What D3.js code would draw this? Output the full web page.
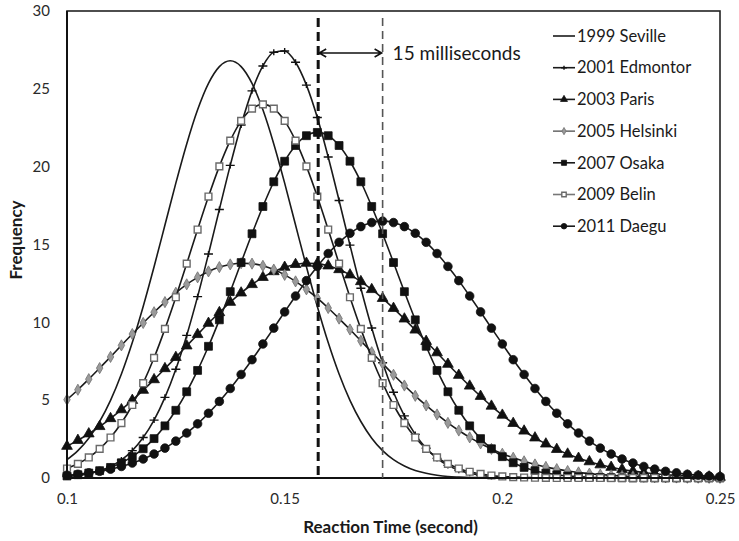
<!DOCTYPE html>
<html>
<head>
<meta charset="utf-8">
<title>Reaction time</title>
<script src="https://cdn.jsdelivr.net/npm/d3@7"></script>
<style>
	html, body { margin: 0; padding: 0; background: #fff; }
	#reaction-chart { display: block; }
	.axis text { font-family: Lato, 'Open Sans', sans-serif; font-size: 15px; fill: #2a2a2a; }
	.axis-title { font-family: Lato, 'Open Sans', sans-serif; font-size: 17px; font-weight: bold; fill: #1a1a1a; }
	.legend text { font-family: Lato, 'Open Sans', sans-serif; font-size: 16.5px; fill: #1a1a1a; }
	.note { font-family: Lato, 'Open Sans', sans-serif; font-size: 19px; fill: #1a1a1a; }
</style>
</head>
<body>
<svg id="reaction-chart" width="739" height="541"></svg>
<script>
// reaction time (s), one marker every 2.5 ms
var reactionTimes = [
	0.1, 0.1025, 0.105, 0.1075, 0.11, 0.1125, 0.115, 0.1175, 0.12, 0.1225,
	0.125, 0.1275, 0.13, 0.1325, 0.135, 0.1375, 0.14, 0.1425, 0.145, 0.1475,
	0.15, 0.1525, 0.155, 0.1575, 0.16, 0.1625, 0.165, 0.1675, 0.17, 0.1725,
	0.175, 0.1775, 0.18, 0.1825, 0.185, 0.1875, 0.19, 0.1925, 0.195, 0.1975,
	0.2, 0.2025, 0.205, 0.2075, 0.21, 0.2125, 0.215, 0.2175, 0.22, 0.2225,
	0.225, 0.2275, 0.23, 0.2325, 0.235, 0.2375, 0.24, 0.2425, 0.245, 0.2475,
	0.25
];

var seville = [
	1.18, 1.76, 2.56, 3.63, 4.99, 6.68, 8.70, 11.02, 13.57, 16.25,
	18.94, 21.46, 23.65, 25.35, 26.43, 26.80, 26.43, 25.35, 23.65, 21.46,
	18.94, 16.25, 13.57, 11.02, 8.70, 6.68, 4.99, 3.63, 2.56, 1.76,
	1.18, 0.77, 0.48, 0.30, 0.18, 0.10, 0.06, 0.03, 0.02, 0.01,
	0, 0, 0, 0, 0, 0, 0, 0, 0, 0,
	0, 0, 0, 0, 0, 0, 0, 0, 0, 0,
	0
];
var edmonton = [
	0.09, 0.16, 0.28, 0.46, 0.74, 1.16, 1.76, 2.60, 3.72, 5.18,
	6.99, 9.16, 11.65, 14.39, 17.25, 20.08, 22.68, 24.87, 26.47, 27.35,
	27.43, 26.71, 25.24, 23.16, 20.62, 17.83, 14.96, 12.19, 9.64, 7.40,
	5.51, 3.99, 2.80, 1.91, 1.26, 0.81, 0.50, 0.31, 0.18, 0.10,
	0.06, 0.03, 0.02, 0.01, 0, 0, 0, 0, 0, 0,
	0, 0, 0, 0, 0, 0, 0, 0, 0, 0,
	0
];
var paris = [
	2.04, 2.42, 2.84, 3.31, 3.82, 4.39, 4.99, 5.64, 6.32, 7.03,
	7.75, 8.49, 9.22, 9.94, 10.63, 11.29, 11.89, 12.43, 12.89, 13.26,
	13.54, 13.72, 13.80, 13.77, 13.63, 13.39, 13.05, 12.62, 12.11, 11.54,
	10.90, 10.22, 9.51, 8.78, 8.05, 7.31, 6.60, 5.91, 5.25, 4.62,
	4.04, 3.51, 3.02, 2.58, 2.19, 1.84, 1.54, 1.27, 1.05, 0.85,
	0.69, 0.55, 0.44, 0.35, 0.27, 0.21, 0.17, 0.13, 0.10, 0.07,
	0.05
];
var helsinki = [
	5.03, 5.67, 6.35, 7.06, 7.78, 8.52, 9.25, 9.96, 10.65, 11.30,
	11.90, 12.44, 12.89, 13.27, 13.55, 13.72, 13.80, 13.77, 13.63, 13.39,
	13.05, 12.63, 12.12, 11.55, 10.92, 10.24, 9.54, 8.81, 8.08, 7.35,
	6.63, 5.94, 5.28, 4.66, 4.08, 3.54, 3.05, 2.61, 2.22, 1.87,
	1.56, 1.30, 1.07, 0.87, 0.71, 0.57, 0.45, 0.36, 0.28, 0.22,
	0.17, 0.13, 0.10, 0.08, 0.06, 0.04, 0.03, 0.02, 0.02, 0.01,
	0.01
];
var osaka = [
	0.13, 0.21, 0.32, 0.47, 0.68, 0.98, 1.37, 1.88, 2.53, 3.35,
	4.35, 5.54, 6.91, 8.46, 10.16, 11.97, 13.84, 15.69, 17.44, 19.03,
	20.35, 21.36, 21.99, 22.20, 21.99, 21.36, 20.35, 19.03, 17.44, 15.69,
	13.84, 11.97, 10.16, 8.46, 6.91, 5.54, 4.35, 3.35, 2.53, 1.88,
	1.37, 0.98, 0.68, 0.47, 0.32, 0.21, 0.13, 0.09, 0.05, 0.03,
	0.02, 0.01, 0, 0, 0, 0, 0, 0, 0, 0,
	0
];
var belin = [
	0.61, 0.91, 1.32, 1.87, 2.60, 3.53, 4.69, 6.09, 7.72, 9.58,
	11.61, 13.77, 15.96, 18.08, 20.02, 21.67, 22.94, 23.73, 24.00, 23.73,
	22.94, 21.67, 20.02, 18.08, 15.96, 13.77, 11.61, 9.58, 7.72, 6.09,
	4.69, 3.53, 2.60, 1.87, 1.32, 0.91, 0.61, 0.40, 0.26, 0.16,
	0.10, 0.06, 0.03, 0.02, 0.01, 0, 0, 0, 0, 0,
	0, 0, 0, 0, 0, 0, 0, 0, 0, 0,
	0
];
var daegu = [
	0.18, 0.24, 0.33, 0.43, 0.57, 0.74, 0.96, 1.22, 1.54, 1.92,
	2.37, 2.89, 3.48, 4.16, 4.92, 5.75, 6.65, 7.60, 8.61, 9.63,
	10.67, 11.69, 12.68, 13.59, 14.42, 15.14, 15.72, 16.15, 16.41, 16.50,
	16.41, 16.15, 15.72, 15.14, 14.42, 13.59, 12.68, 11.69, 10.67, 9.63,
	8.61, 7.60, 6.65, 5.75, 4.92, 4.16, 3.48, 2.89, 2.37, 1.92,
	1.54, 1.22, 0.96, 0.74, 0.57, 0.43, 0.33, 0.24, 0.18, 0.13,
	0.09
];

var seriesNames = ['1999 Seville', '2001 Edmontor', '2003 Paris', '2005 Helsinki', '2007 Osaka', '2009 Belin', '2011 Daegu'];
var seriesValues = [seville, edmonton, paris, helsinki, osaka, belin, daegu];
var xTickValues = [0.1, 0.15, 0.2, 0.25];
var yTickValues = [0, 5, 10, 15, 20, 25, 30];
// mean reaction times marked by the dashed lines (15 ms apart)
var dashedTimes = [0.1577, 0.1725];
var noteText = '15 milliseconds';
var xTitle = 'Reaction Time (second)';
var yTitle = 'Frequency';

window.app = window.app || {};

app.reactionChart = (function(d3) {

	'use strict';

	// marker style per series, same order as seriesNames
	var markerStyles = [
		{type: 'none'},
		{type: 'plus'},
		{type: 'triangle', fill: '#111', stroke: '#111'},
		{type: 'diamond', fill: '#9a9a9a', stroke: '#707070'},
		{type: 'square', fill: '#111', stroke: '#111'},
		{type: 'square', fill: '#fff', stroke: '#6a6a6a', open: true},
		{type: 'circle', fill: '#111', stroke: '#111'}
	];

	/**
	* draw one marker shape in group g
	* @returns {undefined}
	*/
	var drawMarker = function(g, style, scale) {
		var s = scale || 1;
		if (style.type === 'plus') {
			g.append('path')
				.attr('d', 'M' + (-4.5 * s) + ',0H' + (4.5 * s) + 'M0,' + (-3 * s) + 'V' + (3 * s))
				.attr('stroke', '#111')
				.attr('stroke-width', 1.4)
				.attr('fill', 'none');
			return;
		}
		var sym = {
			triangle: [d3.symbolTriangle, 50],
			diamond: [d3.symbolDiamond, 36],
			square: [d3.symbolSquare, style.open ? 46 : 62],
			circle: [d3.symbolCircle, 58]
		}[style.type];
		if (!sym) {
			return;
		}
		g.append('path')
			.attr('d', d3.symbol().type(sym[0]).size(sym[1] * s * s)())
			.attr('fill', style.fill)
			.attr('stroke', style.stroke)
			.attr('stroke-width', style.open ? 1.4 : 0.8);
	};

	/**
	* create chart for reaction times
	* @returns {undefined}
	*/
	var createChart = function() {
		var svg = d3.select('#reaction-chart'),
			margin = {
				top: 11,
				right: 19,
				bottom: 63,
				left: 67
			},
			width = 739 - margin.left - margin.right,
			height = 541 - margin.top - margin.bottom;

		var xScale = d3.scaleLinear()
				.domain([0.1, 0.25])
				.range([0, width]);

		var yScale = d3.scaleLinear()
				.domain([0, 30])
				.range([height, 0]);

		var plot = svg.append('g')
			.attr('transform', 'translate(' + margin.left + ',' + margin.top + ')');

		// render axes (labels only, Excel style)
		plot.append('g')
			.attr('class', 'axis')
			.attr('transform', 'translate(0,' + height + ')')
			.call(d3.axisBottom(xScale).tickValues(xTickValues).tickSize(0).tickPadding(15).tickFormat(d3.format('')))
			.call(function(g) { g.select('.domain').remove(); });

		plot.append('g')
			.attr('class', 'axis')
			.call(d3.axisLeft(yScale).tickValues(yTickValues).tickSize(0).tickPadding(17))
			.call(function(g) { g.select('.domain').remove(); });

		// plot frame
		plot.append('rect')
			.attr('width', width)
			.attr('height', height)
			.attr('fill', 'none')
			.attr('stroke', '#222')
			.attr('stroke-width', 1.6);

		var line = d3.line()
			.x(function(d) { return xScale(d[0]); })
			.y(function(d) { return yScale(d[1]); })
			.curve(d3.curveMonotoneX);

		// render series
		seriesValues.forEach(function(values, i) {
			var points = reactionTimes.map(function(t, j) {
				return [t, values[j]];
			});
			var style = markerStyles[i];

			plot.append('path')
				.datum(points)
				.attr('d', line)
				.attr('fill', 'none')
				.attr('stroke', '#1a1a1a')
				.attr('stroke-width', 1.6);

			if (style.type === 'none') {
				return;
			}
			plot.append('g')
				.selectAll('g')
				.data(points)
				.enter()
				.append('g')
				.attr('transform', function(d) {
					return 'translate(' + xScale(d[0]) + ',' + yScale(d[1]) + ')';
				})
				.each(function() {
					drawMarker(d3.select(this), style);
				});
		});

		// bottom and left axis lines
		plot.append('line')
			.attr('x1', 0).attr('x2', width)
			.attr('y1', height).attr('y2', height)
			.attr('stroke', '#111').attr('stroke-width', 2);
		plot.append('line')
			.attr('x1', 0).attr('x2', 0)
			.attr('y1', 0).attr('y2', height)
			.attr('stroke', '#111').attr('stroke-width', 2);

		// dashed time markers
		plot.selectAll('.dash-line')
			.data(dashedTimes)
			.enter()
			.append('line')
			.attr('class', 'dash-line')
			.attr('x1', function(d) { return xScale(d); })
			.attr('x2', function(d) { return xScale(d); })
			.attr('y1', 7)
			.attr('y2', height)
			.attr('stroke', function(d, i) { return i === 0 ? '#111' : '#555'; })
			.attr('stroke-width', function(d, i) { return i === 0 ? 3 : 1.6; })
			.attr('stroke-dasharray', function(d, i) { return i === 0 ? '9,5' : '8,5'; });

		// double arrow between the dashed lines
		var ay = 42,
			ax1 = xScale(dashedTimes[0]) + 1,
			ax2 = xScale(dashedTimes[1]) - 1;
		plot.append('path')
			.attr('d', 'M' + ax1 + ',' + ay + 'H' + ax2 +
				'M' + (ax1 + 7) + ',' + (ay - 4) + 'L' + ax1 + ',' + ay + 'L' + (ax1 + 7) + ',' + (ay + 4) +
				'M' + (ax2 - 7) + ',' + (ay - 4) + 'L' + ax2 + ',' + ay + 'L' + (ax2 - 7) + ',' + (ay + 4))
			.attr('fill', 'none')
			.attr('stroke', '#111')
			.attr('stroke-width', 1.6);

		plot.append('text')
			.attr('class', 'note')
			.attr('x', ax2 + 11)
			.attr('y', ay + 7)
			.text(noteText);

		// axis titles
		svg.append('text')
			.attr('class', 'axis-title')
			.attr('text-anchor', 'middle')
			.attr('x', margin.left + width / 2 - 3)
			.attr('y', 533)
			.text(xTitle);

		svg.append('text')
			.attr('class', 'axis-title')
			.attr('text-anchor', 'middle')
			.attr('transform', 'translate(22,' + 240 + ') rotate(-90)')
			.text(yTitle);

		// legend
		var legend = svg.append('g')
			.attr('class', 'legend')
			.attr('transform', 'translate(553,36)');

		var rows = legend.selectAll('g')
			.data(seriesNames)
			.enter()
			.append('g')
			.attr('transform', function(d, i) {
				return 'translate(0,' + (i * 31.7) + ')';
			});

		rows.append('line')
			.attr('x1', 0).attr('x2', 22)
			.attr('stroke', function(d, i) { return i === 5 ? '#777' : '#1a1a1a'; })
			.attr('stroke-width', function(d, i) { return i === 3 ? 1 : 1.6; });

		rows.each(function(d, i) {
			var g = d3.select(this).append('g').attr('transform', 'translate(11,0)');
			drawMarker(g, markerStyles[i], 0.65);
		});

		rows.append('text')
			.attr('x', 24)
			.attr('dy', '0.35em')
			.text(function(d) { return d; });
	};

	var init = function() {
		createChart();
	};

	return {
		init: init
	};

})(d3);

app.reactionChart.init();
</script>
</body>
</html>
